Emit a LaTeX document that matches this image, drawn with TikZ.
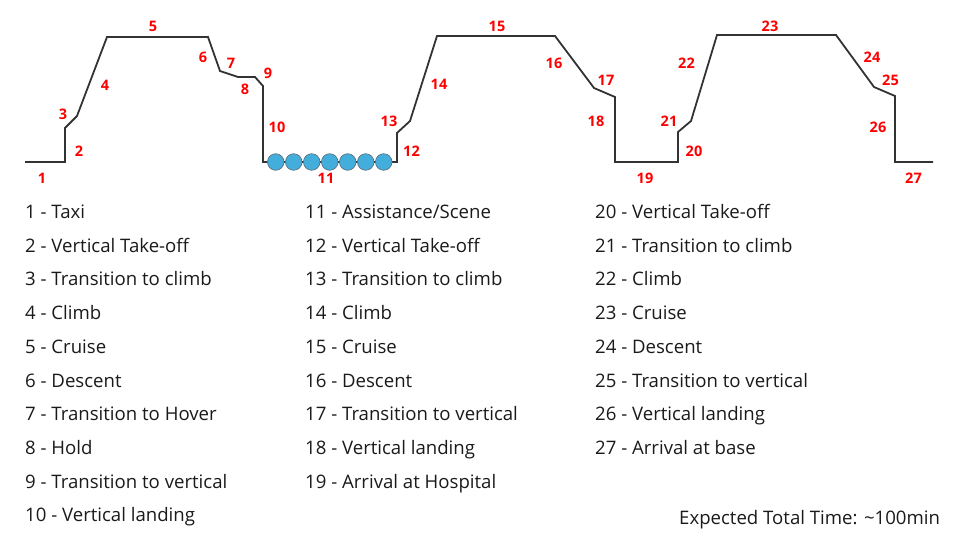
\documentclass[tikz,border=0pt]{standalone}
\usepackage{fontspec}
\setmainfont{Open Sans}
\definecolor{pathgray}{HTML}{333333}
\definecolor{lblred}{HTML}{FF0000}
\definecolor{dotfill}{HTML}{43AEDB}
\definecolor{dotedge}{HTML}{5B6B78}
\definecolor{txt}{HTML}{1A1A1A}
\tikzset{
  profile/.style={draw=pathgray, line width=1.8pt, line join=miter},
  num/.style={text=lblred, font=\fontsize{14.5}{16}\selectfont\bfseries, inner sep=0pt},
  leg/.style={text=txt, font=\fontsize{18.6}{21}\selectfont, anchor=base west, inner sep=0pt},
  dot/.style={circle, draw=dotedge, line width=0.6pt, fill=dotfill, minimum size=16.6pt, inner sep=0pt}
}
\begin{document}
\begin{tikzpicture}[x=1pt,y=-1pt]
\useasboundingbox (0,0) rectangle (960,540);
% vertices of the flight profile
\coordinate (p0) at (25,162);
\coordinate (p1) at (65,162);
\coordinate (p2) at (65,128);
\coordinate (p3) at (77,116);
\coordinate (p4) at (107,37);
\coordinate (p5) at (208,37);
\coordinate (p6) at (220,71);
\coordinate (p7) at (238,77);
\coordinate (p8) at (255,77);
\coordinate (p9) at (263,86);
\coordinate (p10) at (263,162);
\coordinate (p11) at (397,162);
\coordinate (p12) at (397,133);
\coordinate (p13) at (410,121);
\coordinate (p14) at (437,36);
\coordinate (p15) at (555,36);
\coordinate (p16) at (594,88);
\coordinate (p17) at (615,97);
\coordinate (p18) at (615,162);
\coordinate (p19) at (678,162);
\coordinate (p20) at (678,132);
\coordinate (p21) at (691,121);
\coordinate (p22) at (717,35);
\coordinate (p23) at (836,35);
\coordinate (p24) at (874,87);
\coordinate (p25) at (895,96);
\coordinate (p26) at (895,162);
\coordinate (p27) at (933,162);
\draw[profile] (p0) -- (p1) -- (p2) -- (p3) -- (p4) -- (p5) -- (p6) -- (p7) -- (p8) -- (p9) -- (p10) -- (p11) -- (p12) -- (p13) -- (p14) -- (p15) -- (p16) -- (p17) -- (p18) -- (p19) -- (p20) -- (p21) -- (p22) -- (p23) -- (p24) -- (p25) -- (p26) -- (p27);
% assistance circles
\foreach \i in {0,...,6} {
  \node[dot] (c\i) at (275.7+18*\i,162) {};
}
% phase numbers
\node[num] (n1) at (42,178) {1};
\node[num] (n2) at (79,151) {2};
\node[num] (n3) at (63,114) {3};
\node[num] (n4) at (105,85) {4};
\node[num] (n5) at (153,26) {5};
\node[num] (n6) at (203,57) {6};
\node[num] (n7) at (231,63) {7};
\node[num] (n8) at (245,89) {8};
\node[num] (n9) at (268,73) {9};
\node[num] (n10) at (277,127) {10};
\node[num] (n11) at (326,178) {11};
\node[num] (n12) at (411.5,151) {12};
\node[num] (n13) at (389,121) {13};
\node[num] (n14) at (439,84.5) {14};
\node[num] (n15) at (497,26) {15};
\node[num] (n16) at (554,63) {16};
\node[num] (n17) at (606,80) {17};
\node[num] (n18) at (596,121) {18};
\node[num] (n19) at (645,178) {19};
\node[num] (n20) at (694,151) {20};
\node[num] (n21) at (669,121) {21};
\node[num] (n22) at (686.5,63) {22};
\node[num] (n23) at (770,26) {23};
\node[num] (n24) at (872,57) {24};
\node[num] (n25) at (890.5,80) {25};
\node[num] (n26) at (878,127) {26};
\node[num] (n27) at (913.5,178) {27};
% legend column 1
\node[leg] (l1) at (25,218.5) {1 - Taxi};
\node[leg] (l2) at (25,252.2) {2 - Vertical Take-off};
\node[leg] (l3) at (25,285.9) {3 - Transition to climb};
\node[leg] (l4) at (25,319.6) {4 - Climb};
\node[leg] (l5) at (25,353.3) {5 - Cruise};
\node[leg] (l6) at (25,387) {6 - Descent};
\node[leg] (l7) at (25,420.7) {7 - Transition to Hover};
\node[leg] (l8) at (25,454.4) {8 - Hold};
\node[leg] (l9) at (25,488.1) {9 - Transition to vertical};
\node[leg] (l10) at (25,521.8) {10 - Vertical landing};
% legend column 2
\node[leg] (l11) at (305,218.5) {11 - Assistance/Scene};
\node[leg] (l12) at (305,252.2) {12 - Vertical Take-off};
\node[leg] (l13) at (305,285.9) {13 - Transition to climb};
\node[leg] (l14) at (305,319.6) {14 - Climb};
\node[leg] (l15) at (305,353.3) {15 - Cruise};
\node[leg] (l16) at (305,387) {16 - Descent};
\node[leg] (l17) at (305,420.7) {17 - Transition to vertical};
\node[leg] (l18) at (305,454.4) {18 - Vertical landing};
\node[leg] (l19) at (305,488.1) {19 - Arrival at Hospital};
% legend column 3
\node[leg] (l20) at (595,218.5) {20 - Vertical Take-off};
\node[leg] (l21) at (595,252.2) {21 - Transition to climb};
\node[leg] (l22) at (595,285.9) {22 - Climb};
\node[leg] (l23) at (595,319.6) {23 - Cruise};
\node[leg] (l24) at (595,353.3) {24 - Descent};
\node[leg] (l25) at (595,387) {25 - Transition to vertical};
\node[leg] (l26) at (595,420.7) {26 - Vertical landing};
\node[leg] (l27) at (595,454.4) {27 - Arrival at base};
% total time
\node[leg] (tt) at (679,524) {Expected Total Time: {\char"7E}100min};
\end{tikzpicture}
\end{document}
